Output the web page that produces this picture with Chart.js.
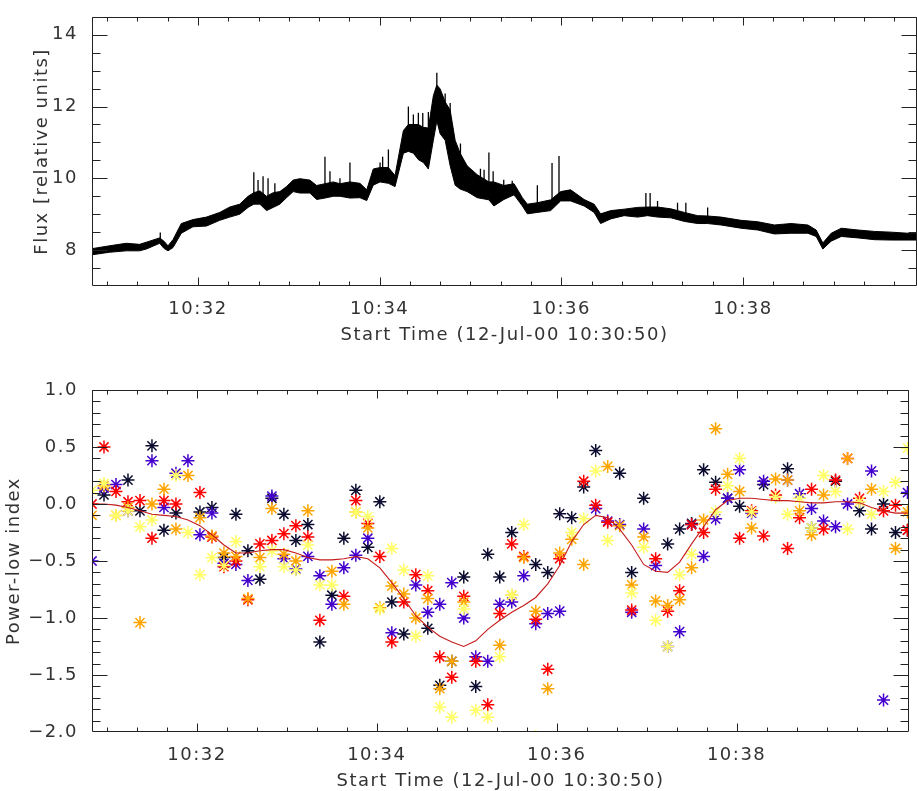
<!DOCTYPE html>
<html><head><meta charset="utf-8">
<script src="https://cdn.jsdelivr.net/npm/chart.js@4.4.1/dist/chart.umd.min.js"></script>
<style>html,body{margin:0;padding:0;background:#fff;overflow:hidden}canvas{position:absolute;left:0}</style>
</head><body>
<canvas id="top" width="917" height="345" style="top:0;width:917px;height:345px"></canvas>
<canvas id="bot" width="917" height="446" style="top:345px;width:917px;height:446px"></canvas>
<script>
// ---- time axis: seconds after 10:30:00 ----
const xTickValues = [120, 240, 360, 480];
const xTickLabels = ['10:32', '10:34', '10:36', '10:38'];
const xAxisTitle = 'Start Time (12-Jul-00 10:30:50)';

// ---- top panel: flux (band: time, low edge, high edge) ----
const fluxTime = [50,61.6,72.6,81.4,85.9,94.7,97.5,100.2,103.5,109,116.7,125.6,134.4,141,147.6,153.1,156.9,160.9,165.3,169.7,174.1,178.5,182.9,187.3,193.9,198.4,203.9,209.4,213.8,220.4,227,231.5,235.8,240.3,245.8,250.2,255.7,259,262.3,265.6,268.9,272.2,275.5,277.8,280,283.3,286.6,289.9,293.2,297.8,304.5,312.2,315.5,322.1,328.8,334.3,337.6,344.2,353,359.6,366.2,375.1,381.7,386,392.7,401.5,410.4,417,423.6,432.4,441.3,450.1,456.7,465.5,478.7,489.8,500.8,511.8,522.9,528.4,532.8,538.3,545,556,567,578,589,595];
const fluxLow  = [7.87,7.94,7.98,7.98,8.03,8.19,8.05,7.98,8.07,8.47,8.65,8.67,8.83,8.92,9.0,9.19,9.28,9.28,9.1,9.19,9.28,9.46,9.63,9.59,9.59,9.41,9.45,9.5,9.5,9.45,9.46,9.38,9.81,9.9,9.86,9.77,10.7,10.75,10.7,10.52,10.44,10.26,11.06,11.6,11.24,11.06,10.35,9.81,9.7,9.63,9.46,9.4,9.23,9.41,9.54,9.23,9.01,9.05,9.1,9.37,9.37,9.23,9.05,8.74,8.87,8.96,8.92,8.96,8.92,8.9,8.8,8.74,8.74,8.7,8.61,8.56,8.45,8.47,8.47,8.38,8.03,8.25,8.38,8.34,8.29,8.28,8.28,8.28];
const fluxHigh = [8.04,8.12,8.19,8.16,8.22,8.34,8.25,8.12,8.29,8.74,8.85,8.92,9.05,9.2,9.28,9.5,9.6,9.65,9.5,9.6,9.63,9.77,9.95,9.99,9.95,9.8,9.85,9.9,9.85,9.9,9.86,9.68,10.26,10.3,10.3,10.08,11.33,11.5,11.5,11.5,11.42,11.4,12.3,12.6,12.49,12.13,11.9,11.06,10.7,10.35,10.1,9.9,9.9,9.8,9.85,9.46,9.28,9.32,9.4,9.63,9.68,9.41,9.28,9.01,9.1,9.14,9.19,9.2,9.2,9.15,9.05,8.96,8.95,8.92,8.83,8.79,8.7,8.74,8.7,8.56,8.2,8.47,8.61,8.56,8.52,8.5,8.47,8.47];
// narrow spikes: time, base, peak
const spikeTime = [95.1,156.9,159.7,163,166.3,170.8,203.9,207.2,213.8,220.4,240.3,242,245.8,259,262.3,265.6,268.5,272.2,277.8,283.3,286.6,293.4,301.8,306.6,309,312.2,315,322,327.6,344.2,353.9,358.5,415.9,418.7,423.6,436.8,442.3,456.7];
const spikeBase = [8.3,9.35,9.4,9.4,9.4,9.5,9.7,9.7,9.7,9.7,10.0,10.0,10.0,11.0,11.0,11.0,11.0,11.0,12.0,11.5,11.5,10.3,9.9,9.9,9.9,9.8,9.7,9.7,9.7,9.2,9.4,9.5,9.1,9.1,9.1,9.1,9.0,8.9];
const spikePeak = [8.49,10.17,9.95,10.06,10.0,9.86,10.6,10.2,10.0,10.44,10.44,10.6,10.8,12.0,11.78,11.83,11.82,11.85,12.94,12.36,12.1,10.97,10.17,10.27,10.24,10.72,10.2,9.96,9.93,9.81,10.43,10.62,9.59,9.59,9.37,9.32,9.32,9.19];
const fluxTickValues = [8, 10, 12, 14];
const fluxTickLabels = ['8', '10', '12', '14'];

// ---- bottom panel: power-law index, one sample every 8 s ----
const idxTime = [50,58,66,74,82,90,98,106,114,122,130,138,146,154,162,170,178,186,194,202,210,218,226,234,242,250,258,266,274,282,290,298,306,314,322,330,338,346,354,362,370,378,386,394,402,410,418,426,434,442,450,458,466,474,482,490,498,506,514,522,530,538,546,554,562,570,578,586,594];
const idxBlack  = [null,0.08,null,0.21,-0.06,0.51,-0.23,-0.08,null,-0.07,-0.03,-0.47,-0.09,-0.41,-0.66,0.05,-0.09,-0.32,-0.18,-1.21,-0.80,-0.30,0.12,-0.38,0.02,-0.86,-1.14,null,-1.09,-1.59,-1.38,-0.64,-1.60,-0.44,-0.64,-0.25,null,-0.53,-0.60,-0.085,-0.12,0.15,0.47,null,0.27,-0.60,0.05,null,-0.35,-0.22,-0.17,0.30,0.19,0.05,-0.02,null,0.17,null,0.31,null,-0.21,null,0.20,null,-0.06,-0.22,0.0,-0.25,-0.23];
const idxPurple = [-0.50,0.14,0.17,-0.06,null,0.38,-0.03,0.27,0.38,-0.27,-0.08,-0.52,-0.53,-0.67,null,0.07,-0.48,-0.57,-0.46,-0.63,-0.88,-0.56,-0.45,-0.30,null,-1.13,null,-0.71,-0.95,-0.88,-0.69,-1.00,-1.34,-1.38,-0.88,-0.86,-0.63,-1.05,-0.96,-0.94,null,null,-0.04,-0.15,-0.18,-0.95,-0.22,-0.54,-1.25,-1.12,-0.18,-0.46,-0.13,0.05,0.30,-0.08,0.20,null,0.21,0.09,-0.04,-0.15,-0.20,0.0,null,0.29,-1.72,null,0.10];
const idxRed    = [0.0,0.50,0.11,0.02,0.03,-0.30,0.03,0.0,null,0.10,-0.29,-0.55,-0.50,-0.84,-0.35,-0.32,-0.26,-0.19,-0.29,-1.02,null,-0.81,0.03,-0.17,-0.46,-1.21,-0.86,-0.62,-0.76,-1.34,-1.52,-0.81,-1.38,-1.76,-0.96,-0.35,-0.46,-1.01,-1.45,-0.48,null,0.20,-0.01,-0.16,null,-0.93,null,-0.48,-0.94,-0.76,-0.18,-0.25,0.13,null,-0.30,-0.06,-0.28,0.08,-0.39,-0.12,0.13,-0.22,0.21,0.40,0.05,null,-0.06,-0.01,-0.23];
const idxOrange = [-0.10,0.16,-0.10,-0.03,-1.04,0.0,0.13,-0.22,0.25,-0.12,-0.28,-0.43,-0.46,-0.83,-0.47,-0.04,-0.44,-0.50,-0.06,null,-0.59,-0.88,-0.07,-0.21,-0.91,-0.72,-0.79,-1.00,-0.83,-1.62,-1.38,-0.86,null,null,-1.24,-0.80,-0.47,-0.94,-1.62,-0.43,-0.31,-0.53,null,0.33,-0.19,-0.71,-0.29,-0.85,-0.89,-0.84,-0.56,-0.14,0.66,0.26,0.11,-0.21,null,0.22,0.21,-0.06,-0.27,0.08,null,0.40,null,0.13,null,-0.39,-0.07];
const idxYellow = [0.12,0.18,-0.10,-0.06,-0.20,-0.14,null,0.25,-0.25,-0.62,-0.47,-0.54,-0.33,null,-0.55,-0.41,-0.55,-0.58,-0.36,-0.71,-0.71,null,-0.07,-0.11,-0.92,-0.39,-0.58,-1.16,-0.63,-1.78,-1.87,-0.92,-1.81,-1.87,-1.34,-0.80,-0.18,-2.04,null,null,-0.25,-0.13,0.29,-0.32,null,-0.78,-0.38,-1.02,-1.25,-0.62,-0.44,null,-0.07,0.16,0.40,-0.07,null,0.06,-0.09,0.05,-0.21,0.25,0.11,-0.22,0.02,-0.09,0.11,0.19,0.49];
const idxSmooth = [0.0,0.0,-0.01,-0.03,-0.06,-0.09,-0.10,-0.11,-0.14,-0.19,-0.27,-0.36,-0.43,-0.43,-0.41,-0.40,-0.40,-0.43,-0.47,-0.49,-0.49,-0.48,-0.46,-0.48,-0.56,-0.69,-0.83,-0.98,-1.08,-1.16,-1.21,-1.25,-1.20,-1.10,-1.02,-0.95,-0.89,-0.82,-0.70,-0.54,-0.33,-0.18,-0.10,-0.12,-0.22,-0.36,-0.53,-0.59,-0.60,-0.51,-0.35,-0.20,-0.05,0.03,0.05,0.05,0.04,0.03,0.03,0.02,0.01,0.01,0.02,0.02,0.01,-0.03,-0.06,-0.08,-0.08];
const idxTickValues = [-2.0, -1.5, -1.0, -0.5, 0.0, 0.5, 1.0];
const idxTickLabels = ['\u22122.0', '\u22121.5', '\u22121.0', '\u22120.5', '0.0', '0.5', '1.0'];

// ---- styling ----
const FONT = {family: 'DejaVu Sans', size: 18};
const TXT = '#333';
const AX = '#222';

function ticksEvery(lo, hi, step) { const r = []; for (let v = lo; v <= hi + 1e-9; v += step) r.push(+v.toFixed(4)); return r; }

const idlFrame = {
  id: 'idlFrame',
  beforeLayout(chart) { chart.ctx.letterSpacing = '1.5px'; },
  beforeDraw(chart) { chart.ctx.letterSpacing = '1.5px'; },
  afterDatasetsDraw(chart, args, o) {
    const {ctx, chartArea: a, scales} = chart;
    const xs = scales.x, ys = scales.y;
    const L = Math.round(a.left) + 0.5, R = Math.round(a.right) - 0.5;
    const T = Math.round(a.top) + 0.5, B = Math.round(a.bottom) - 0.5;
    ctx.save();
    ctx.strokeStyle = AX; ctx.lineWidth = 1;
    ctx.beginPath();
    ctx.rect(L, T, R - L, B - T);
    const xt = (vals, len) => vals.forEach(v => {
      const p = Math.round(xs.getPixelForValue(v)) + 0.5;
      if (p < L || p > R) return;
      ctx.moveTo(p, B); ctx.lineTo(p, B - len); ctx.moveTo(p, T); ctx.lineTo(p, T + len);
    });
    const yt = (vals, len) => vals.forEach(v => {
      const p = Math.round(ys.getPixelForValue(v)) + 0.5;
      if (p < T || p > B) return;
      ctx.moveTo(L, p); ctx.lineTo(L + len, p); ctx.moveTo(R, p); ctx.lineTo(R - len, p);
    });
    xt(o.xMinor, 4); xt(o.xMajor, 8);
    yt(o.yMinor, 8); yt(o.yMajor, 15);
    ctx.stroke();
    ctx.restore();
  }
};

function xScale(h) {
  return {
    type: 'linear', min: 50, max: 595,
    afterBuildTicks: s => { s.ticks = xTickValues.map(v => ({value: v})); },
    afterFit: s => { s.height = h; },
    grid: {display: false}, border: {display: false},
    ticks: {font: FONT, color: TXT, padding: 5, maxRotation: 0, autoSkip: false,
      callback: v => xTickLabels[xTickValues.indexOf(v)] ?? ''},
    title: {display: true, text: xAxisTitle, font: FONT, color: TXT, padding: {top: 0, bottom: -1.5}}
  };
}
function yScale(min, max, vals, labels, title, tpad) {
  return {
    type: 'linear', min, max,
    afterBuildTicks: s => { s.ticks = vals.map(v => ({value: v})); },
    afterFit: s => { s.width = 92; },
    grid: {display: false}, border: {display: false},
    ticks: {font: FONT, color: TXT, padding: 6, autoSkip: false,
      callback: v => labels[vals.indexOf(v)] ?? ''},
    title: {display: true, text: title, font: FONT, color: TXT, padding: {top: tpad, bottom: 0}}
  };
}

// top chart
const pts = (xs, ys) => xs.map((x, i) => ({x, y: ys[i]}));
const spikeData = [];
spikeTime.forEach((t, i) => { spikeData.push({x: t, y: spikeBase[i]}, {x: t, y: spikePeak[i]}, {x: t, y: null}); });

new Chart(document.getElementById('top'), {
  type: 'line',
  data: {datasets: [
    {data: pts(fluxTime, fluxLow), borderColor: '#000', borderWidth: 1, pointRadius: 0, fill: false, tension: 0, clip: 0},
    {data: pts(fluxTime, fluxHigh), borderColor: '#000', borderWidth: 1, pointRadius: 0, fill: '-1', backgroundColor: '#000', tension: 0, clip: 0},
    {data: spikeData, borderColor: '#000', borderWidth: 1.3, pointRadius: 0, fill: false, spanGaps: false, tension: 0, clip: 0}
  ]},
  options: {
    responsive: false, animation: false, devicePixelRatio: 1, events: [],
    layout: {padding: {top: 5, right: 0, bottom: 0, left: 0}},
    scales: {
      x: xScale(59),
      y: yScale(7, 14.5, fluxTickValues, fluxTickLabels, 'Flux [relative units]', 32)
    },
    plugins: {legend: {display: false}, tooltip: {enabled: false},
      idlFrame: {xMajor: xTickValues, xMinor: ticksEvery(60, 580, 20), yMajor: fluxTickValues, yMinor: ticksEvery(7, 14.5, 0.5)}}
  },
  plugins: [idlFrame]
});

// bottom chart
const starSet = (ys, color, order) => ({
  type: 'scatter', data: pts(idxTime, ys), showLine: false, pointStyle: 'star',
  pointRadius: 6.5, pointBorderWidth: 1.5, borderColor: color, backgroundColor: color,
  pointBorderColor: color, order, clip: 0
});
new Chart(document.getElementById('bot'), {
  type: 'scatter',
  data: {datasets: [
    {type: 'line', data: pts(idxTime, idxSmooth), borderColor: '#c41a1a', borderWidth: 1.1, pointRadius: 0, fill: false, tension: 0, order: 0, clip: 0},
    starSet(idxYellow, '#ffff66', 1),
    starSet(idxOrange, '#ffa500', 2),
    starSet(idxRed, '#ff0000', 3),
    starSet(idxPurple, '#4400cc', 4),
    starSet(idxBlack, '#0c0c30', 5)
  ]},
  options: {
    responsive: false, animation: false, devicePixelRatio: 1, events: [],
    layout: {padding: {top: 45, right: 0, bottom: 0, left: 0}},
    scales: {
      x: xScale(59),
      y: yScale(-2.0, 1.0, idxTickValues, idxTickLabels, 'Power-low index', 4)
    },
    plugins: {legend: {display: false}, tooltip: {enabled: false},
      idlFrame: {xMajor: xTickValues, xMinor: ticksEvery(60, 580, 20), yMajor: idxTickValues, yMinor: ticksEvery(-2.0, 1.0, 0.1)}}
  },
  plugins: [idlFrame]
});
</script>
</body></html>
